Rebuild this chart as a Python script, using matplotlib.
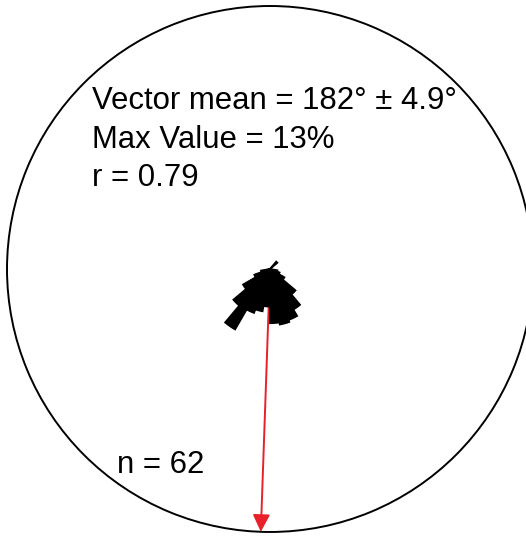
import matplotlib.pyplot as plt
import numpy as np

plt.rcParams['font.family'] = ['Liberation Sans', 'DejaVu Sans']

# petal directions (bin centres, degrees) and frequency in percent
bin_centres = [45, 105, 115, 125, 135, 145, 155, 165, 175, 185, 195, 205, 215, 225, 235, 245, 255]
percent = [1.8, 1.4, 1.9, 3.1, 6.2, 8.7, 10.1, 10.5, 10.1, 7.0, 8.0, 8.7, 13.0, 8.9, 5.8, 3.1, 1.7]
bin_width = 10

vector_mean = 182
conf = 4.9
r_len = 0.79
n_obs = 62
r_outer = 49.0  # radial extent of the outer circle, in percent

fig = plt.figure(figsize=(5.26, 5.36), dpi=100)
ax = fig.add_axes([0.0133, 0.0075, 1.0, 0.9813], projection='polar')
ax.set_theta_zero_location('N')
ax.set_theta_direction(-1)
ax.set_ylim(0, r_outer)
ax.grid(False)
ax.set_xticks([])
ax.set_yticks([])
ax.spines['polar'].set_linewidth(1.4)
ax.spines['polar'].set_color('black')

# rose petals
ax.bar(np.radians(bin_centres), percent, width=np.radians(bin_width), bottom=0,
       color='black', edgecolor='black', linewidth=1.3, zorder=3)

# mean direction arrow
ax.annotate('', xy=(np.radians(vector_mean), r_outer), xytext=(0, 0),
            arrowprops=dict(arrowstyle='-|>', color='#e8202a', lw=1.4,
                            mutation_scale=26, shrinkA=0, shrinkB=0),
            annotation_clip=False, zorder=2)

fs = 22.4
fig.text(92 / 526, 1 - 101 / 536, f'Vector mean = {vector_mean}° ± {conf}°',
         fontsize=fs, va='center', ha='left')
fig.text(92 / 526, 1 - 140 / 536, f'Max Value = {max(percent):.0f}%',
         fontsize=fs, va='center', ha='left')
fig.text(92 / 526, 1 - 178 / 536, f'r = {r_len}',
         fontsize=fs, va='center', ha='left')
fig.text(117 / 526, 1 - 465 / 536, f'n = {n_obs}',
         fontsize=fs, va='center', ha='left')

fig.savefig('out.png', dpi=100)
